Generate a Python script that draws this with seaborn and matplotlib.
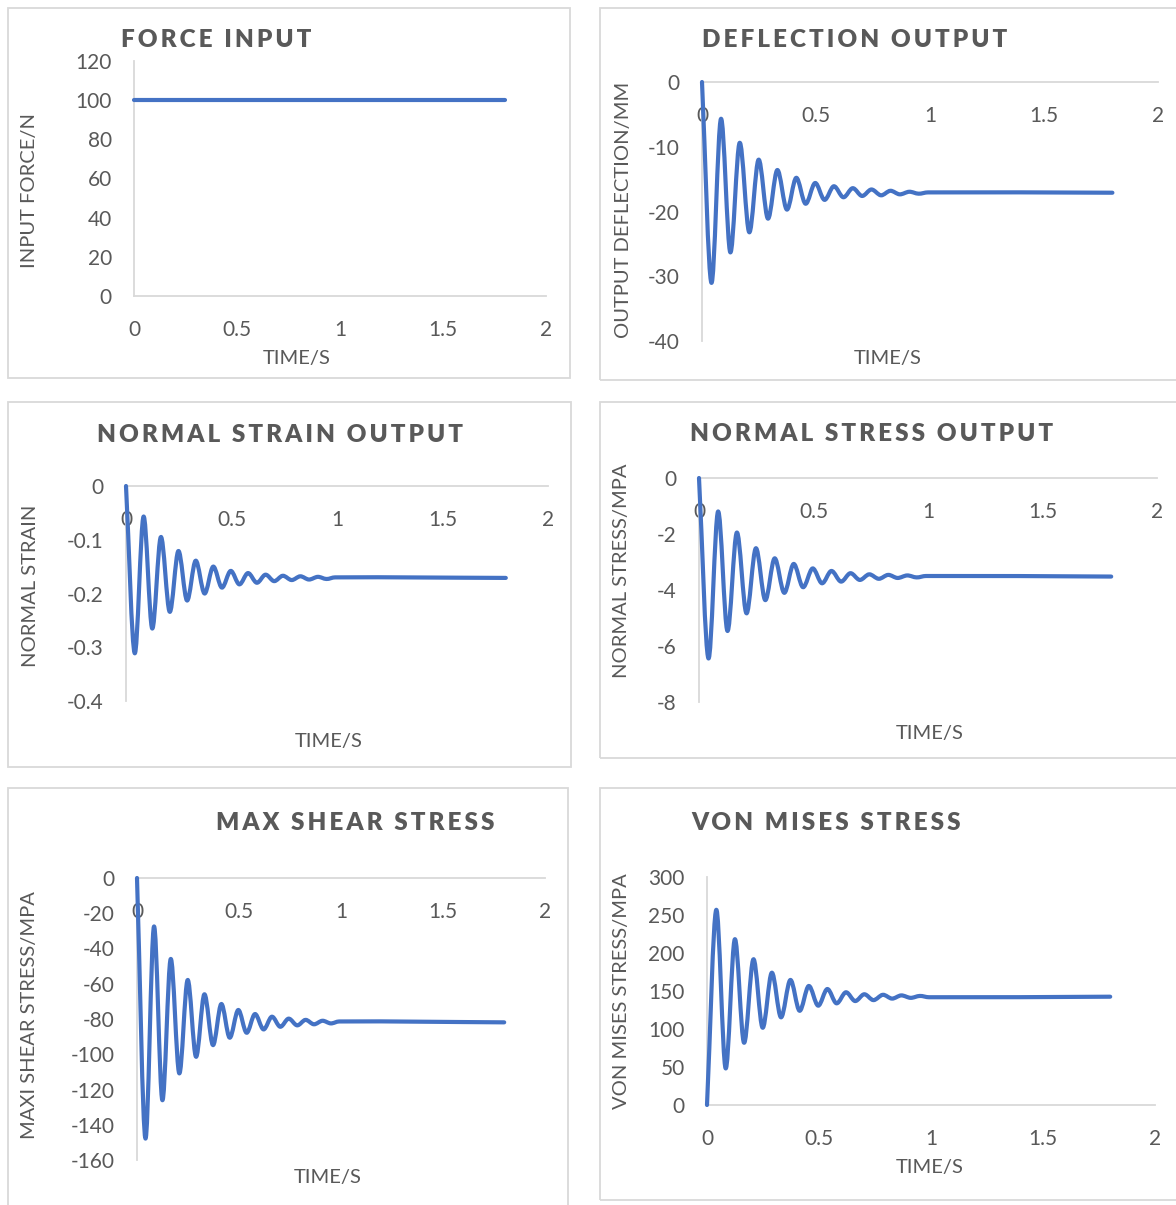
import matplotlib
matplotlib.use("Agg")
import matplotlib.pyplot as plt
import seaborn as sns
from matplotlib.patches import Rectangle, PathPatch
from matplotlib.path import Path
from matplotlib.ticker import FuncFormatter

# ---- data -------------------------------------------------------------
# time stamps of the turning points of the response (s)
time_s = [0.000, 0.041, 0.083, 0.124, 0.165, 0.207, 0.248, 0.289, 0.330,
          0.372, 0.413, 0.454, 0.496, 0.537, 0.578, 0.620, 0.661, 0.702,
          0.743, 0.785, 0.826, 0.867, 0.909, 0.950, 0.991, 1.800]

force_time_s = [0.0, 1.8]
force_n = [100, 100]

deflection_mm = [0, -31.0, -5.7, -26.3, -9.4, -23.2, -12.0, -21.1, -13.6,
                 -19.7, -14.8, -18.8, -15.6, -18.2, -16.1, -17.8, -16.4,
                 -17.6, -16.6, -17.5, -16.8, -17.35, -16.95, -17.25, -17.05, -17.1]

normal_strain = [0, -0.311, -0.057, -0.265, -0.095, -0.234, -0.121, -0.213,
                 -0.139, -0.200, -0.150, -0.189, -0.158, -0.183, -0.162,
                 -0.180, -0.165, -0.177, -0.167, -0.175, -0.168, -0.174,
                 -0.169, -0.173, -0.170, -0.171]

normal_stress_mpa = [0, -6.44, -1.20, -5.46, -1.95, -4.83, -2.51, -4.36,
                     -2.87, -4.10, -3.07, -3.90, -3.23, -3.76, -3.32, -3.70,
                     -3.40, -3.64, -3.44, -3.60, -3.46, -3.57, -3.48, -3.55,
                     -3.50, -3.52]

shear_stress_mpa = [0, -147.7, -27.6, -126.0, -46.0, -110.8, -57.9, -101.4,
                    -66.0, -94.8, -71.5, -90.6, -74.9, -87.8, -77.2, -85.9,
                    -78.7, -84.4, -79.8, -83.6, -80.5, -83.0, -81.0, -82.5,
                    -81.4, -81.9]

von_mises_mpa = [0, 256.6, 48.3, 218.0, 82.0, 191.7, 101.7, 174.0, 115.4,
                 164.5, 124.0, 156.6, 130.7, 152.6, 133.8, 148.3, 136.8,
                 145.7, 138.0, 145.0, 140.0, 144.2, 141.0, 143.5, 141.8, 142.5]

x_ticks = [0, 0.5, 1, 1.5, 2]

# ---- style ------------------------------------------------------------
W, H = 1176, 1205
BLUE = "#4472C4"
TEXT = "#595959"
RULE = "#D9D9D9"
LINE_W = 3.0

sns.set_theme(style="white")
plt.rcParams["font.family"] = ["Lato", "DejaVu Sans"]
plt.rcParams["axes.unicode_minus"] = False

fig = plt.figure(figsize=(W / 100, H / 100), dpi=100)
fig.patch.set_facecolor("white")


def fx(px):
    return px / W


def fy(py):
    return 1 - py / H


def spaced(s):
    return "\u200a\u200a".join(s)


def smoothed(xs, ys):
    """Cubic Bezier path through the points (a 'smoothed line' rendering)."""
    n = len(xs)
    slopes = []
    for i in range(n):
        if i == 0:
            m = (ys[1] - ys[0]) / (xs[1] - xs[0])
        elif i == n - 1:
            m = (ys[-1] - ys[-2]) / (xs[-1] - xs[-2])
        else:
            m = (ys[i + 1] - ys[i - 1]) / (xs[i + 1] - xs[i - 1])
        slopes.append(m)
    verts = [(xs[0], ys[0])]
    codes = [Path.MOVETO]
    for i in range(n - 1):
        h = xs[i + 1] - xs[i]
        verts += [(xs[i] + h / 3, ys[i] + slopes[i] * h / 3),
                  (xs[i + 1] - h / 3, ys[i + 1] - slopes[i + 1] * h / 3),
                  (xs[i + 1], ys[i + 1])]
        codes += [Path.CURVE4] * 3
    return Path(verts, codes)


panels = [
    dict(title="FORCE INPUT", ylabel="INPUT FORCE/N", x=force_time_s, y=force_n,
         ylim=(0, 120), yticks=[0, 20, 40, 60, 80, 100, 120],
         box=(134, 546, 61, 296), card=(8, 8, 570, 378),
         t=(216, 40), yl=(30, 191), xl=(297, 358)),
    dict(title="DEFLECTION OUTPUT", ylabel="OUTPUT DEFLECTION/MM", x=time_s, y=deflection_mm,
         ylim=(-40, 0), yticks=[-40, -30, -20, -10, 0],
         box=(702, 1158, 82, 341), card=(600, 8, 1190, 380),
         t=(855, 40), yl=(624, 210), xl=(888, 358)),
    dict(title="NORMAL STRAIN OUTPUT", ylabel="NORMAL STRAIN", x=time_s, y=normal_strain,
         ylim=(-0.4, 0), yticks=[-0.4, -0.3, -0.2, -0.1, 0],
         box=(126, 548, 486, 701), card=(8, 402, 571, 767),
         t=(280, 435), yl=(31, 586), xl=(329, 741)),
    dict(title="NORMAL STRESS OUTPUT", ylabel="NORMAL STRESS/MPA", x=time_s, y=normal_stress_mpa,
         ylim=(-8, 0), yticks=[-8, -6, -4, -2, 0],
         box=(699, 1157, 478, 702), card=(600, 402, 1190, 758),
         t=(872, 434), yl=(622, 571), xl=(930, 733)),
    dict(title="MAX SHEAR STRESS", ylabel="MAXI SHEAR STRESS/MPA", x=time_s, y=shear_stress_mpa,
         ylim=(-160, 0), yticks=[-160, -140, -120, -100, -80, -60, -40, -20, 0],
         box=(137, 545, 878, 1160), card=(8, 788, 568, 1215),
         t=(355, 823), yl=(30, 1015), xl=(328, 1177)),
    dict(title="VON MISES STRESS", ylabel="VON MISES STRESS/MPA", x=time_s, y=von_mises_mpa,
         ylim=(0, 300), yticks=[0, 50, 100, 150, 200, 250, 300],
         box=(707, 1155, 877, 1105), card=(600, 788, 1190, 1200),
         t=(826, 823), yl=(622, 991), xl=(930, 1168)),
]

fmt = FuncFormatter(lambda v, _: f"{v:g}")

for p in panels:
    cx0, cy0, cx1, cy1 = p["card"]
    fig.add_artist(Rectangle((fx(cx0), fy(cy1)), fx(cx1 - cx0), (cy1 - cy0) / H,
                             transform=fig.transFigure, fill=False,
                             edgecolor=RULE, linewidth=1.3))

    l, r, t, b = p["box"]
    ax = fig.add_axes([fx(l), fy(b), fx(r - l), (b - t) / H])
    ax.set_facecolor("none")
    sns.lineplot(x=p["x"], y=p["y"], ax=ax, color=BLUE, linewidth=LINE_W,
                 sort=False, estimator=None, clip_on=False, zorder=5,
                 solid_capstyle="round", solid_joinstyle="round")
    line = ax.lines[-1]
    xs, ys = line.get_data()
    if len(xs) > 2:
        # render the response as a smoothed curve through its turning points
        line.remove()
        ax.add_patch(PathPatch(smoothed(list(xs), list(ys)), transform=ax.transData,
                               facecolor="none", edgecolor=BLUE, linewidth=LINE_W,
                               capstyle="round", joinstyle="round",
                               clip_on=False, zorder=5))
    ax.set_xlim(0, 2)
    ax.set_ylim(*p["ylim"])
    ax.set_xticks(x_ticks)
    ax.set_yticks(p["yticks"])
    ax.xaxis.set_major_formatter(fmt)
    ax.yaxis.set_major_formatter(fmt)
    ax.set_xlabel("")
    ax.set_ylabel("")
    ax.grid(False)
    for side in ("top", "right"):
        ax.spines[side].set_visible(False)
    ax.spines["left"].set_color(RULE)
    ax.spines["left"].set_linewidth(1.3)
    ax.spines["bottom"].set_color(RULE)
    ax.spines["bottom"].set_linewidth(1.3)
    ax.spines["bottom"].set_position(("data", 0))
    ax.tick_params(axis="both", length=0, labelsize=15, labelcolor=TEXT)
    ax.tick_params(axis="y", pad=16)
    ax.tick_params(axis="x", pad=17)

    fig.text(fx(p["t"][0]), fy(p["t"][1]), spaced(p["title"]), ha="center", va="center",
             fontsize=17.5, fontweight="heavy", color=TEXT)
    fig.text(fx(p["yl"][0]), fy(p["yl"][1]), p["ylabel"], ha="center", va="center",
             rotation=90, fontsize=14.5, color=TEXT)
    fig.text(fx(p["xl"][0]), fy(p["xl"][1]), "TIME/S", ha="center", va="center",
             fontsize=14.5, color=TEXT)

fig.savefig("out.png", dpi=100, facecolor="white")
